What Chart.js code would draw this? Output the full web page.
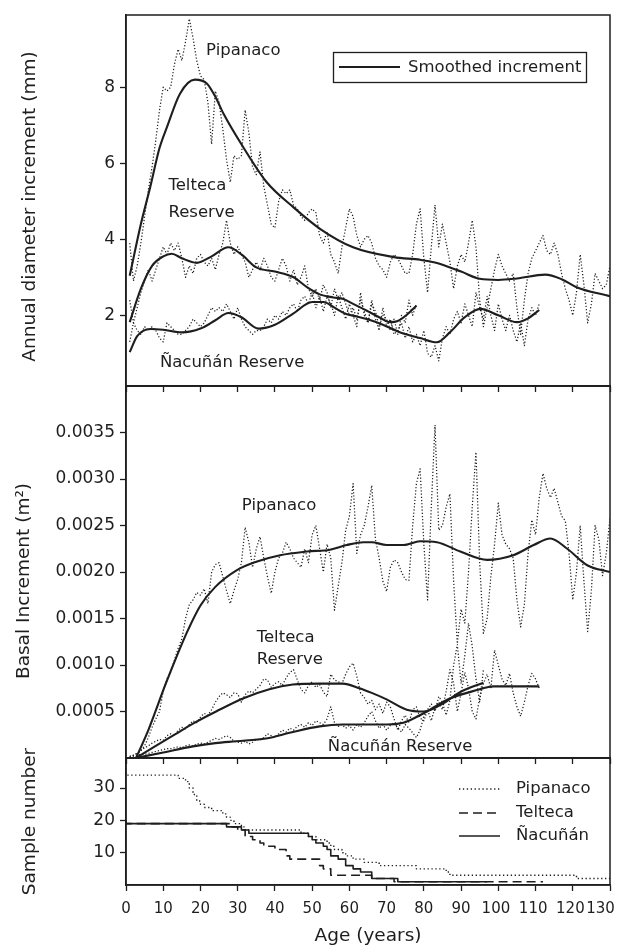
<!DOCTYPE html>
<html>
<head>
<meta charset="utf-8">
<script src="https://cdn.jsdelivr.net/npm/chart.js@4.4.1/dist/chart.umd.min.js"></script>
<style>
  html, body { margin: 0; padding: 0; background: #ffffff; }
  #wrap { position: relative; width: 624px; height: 948px; overflow: hidden; background: #fff; }
  canvas { position: absolute; left: 0; }
</style>
</head>
<body>
<div id="wrap">
  <canvas id="c3" width="670" height="210" style="top:738px"></canvas>
  <canvas id="c2" width="670" height="412" style="top:366px"></canvas>
  <canvas id="c1" width="670" height="411" style="top:-5px"></canvas>
</div>
<script>
// ---------------- DATA ----------------
const xTicks = [0, 10, 20, 30, 40, 50, 60, 70, 80, 90, 100, 110, 120, 130];
const yTicksDiam = [2, 4, 6, 8];
const yTicksBasal = [0.0005, 0.0010, 0.0015, 0.0020, 0.0025, 0.0030, 0.0035];
const yTicksSample = [10, 20, 30];

// age (years) of each annual ring
const ages = Array.from({ length: 130 }, (_, i) => i + 1);

// Annual diameter increment (mm) - raw series
const diamPipanacoRaw = [
  3.9, 2.9, 3.3, 3.9, 4.6, 5.3, 5.9, 6.6, 7.4, 8.0,
  7.9, 8.0, 8.6, 9.0, 8.7, 9.2, 9.8, 9.3, 8.7, 8.3,
  8.2, 7.6, 6.5, 7.9, 7.6, 6.9, 6.1, 5.5, 6.2, 6.1,
  6.2, 7.4, 6.8, 5.9, 5.7, 6.3, 5.4, 4.9, 4.4, 4.3,
  5.0, 5.3, 5.2, 5.3, 4.9, 4.8, 4.6, 4.5, 4.7, 4.8,
  4.7, 4.1, 3.9, 4.2, 3.6, 3.4, 3.1, 3.8, 4.3, 4.8,
  4.6, 4.1, 3.8, 4.0, 4.1, 3.9, 3.5, 3.3, 3.2, 3.0,
  3.4, 3.6, 3.5, 3.3, 3.1, 3.1, 3.6, 4.4, 4.8, 3.5,
  2.6, 3.8, 4.9, 3.8, 4.4, 3.9, 3.4, 2.7, 3.3, 3.6,
  3.4, 3.9, 4.5, 3.8, 2.4, 1.7, 2.2, 2.7, 3.2, 3.6,
  3.3, 3.1, 2.9, 3.1, 2.2, 1.5, 2.4, 3.1, 3.5, 3.7,
  3.9, 4.1, 3.7, 3.6, 3.9, 3.6, 3.1, 2.7, 2.4, 2.0,
  2.6, 3.6, 2.8, 1.8, 2.3, 3.1, 2.9, 2.7, 2.8, 3.3
];
const diamTeltecaRaw = [
  2.4, 1.8, 2.2, 2.6, 2.9, 3.2, 2.9, 3.2, 3.5, 3.8,
  3.6, 3.9, 3.7, 3.9, 3.5, 3.0, 3.3, 3.1, 3.5, 3.6,
  3.4, 3.3, 3.5, 3.2, 3.6, 3.9, 4.5, 3.9, 3.6, 3.8,
  3.6, 3.4, 3.0, 3.2, 3.4, 3.2, 3.5, 3.3, 3.0, 2.9,
  3.2, 3.5, 3.3, 2.9, 3.2, 2.8, 3.0, 3.3, 2.7, 2.5,
  2.7, 2.4, 2.8, 2.6, 2.2, 2.7, 2.4, 2.6, 2.3, 2.0,
  2.2, 1.9, 2.4, 2.1, 1.8, 2.3, 2.1, 1.7, 2.0, 1.9,
  1.6, 1.9, 1.5, 2.0, 1.8, 2.4, 2.0, 2.3
];
const diamNacunanRaw = [
  1.3, 1.8, 1.6, 1.5, 1.7, 1.6, 1.7, 1.6, 1.4, 1.3,
  1.8, 1.7, 1.6, 1.5, 1.5, 1.6, 1.7, 1.9, 1.8, 1.7,
  1.8, 2.0, 2.2, 2.1, 2.2, 2.1, 2.3, 2.1, 1.9, 2.2,
  1.9, 1.7, 1.6, 1.5, 1.6, 1.6, 1.7, 1.9, 1.8, 2.0,
  1.9, 2.1, 2.0, 2.2, 2.3, 2.1, 2.4, 2.5, 2.3, 2.6,
  2.2, 2.5, 2.1, 2.5, 2.3, 2.0, 2.5, 2.2, 1.9, 2.3,
  2.0, 1.7, 2.6, 2.0, 1.8, 2.4, 1.9, 1.6, 2.2, 1.7,
  1.9, 1.5, 1.6, 1.8, 1.4, 1.7, 1.3, 1.5, 1.2, 1.6,
  1.0, 0.9, 1.2, 0.8, 1.4, 1.7, 1.5, 1.9, 2.1, 1.8,
  2.3, 2.0, 1.7, 2.6, 2.2, 1.9, 2.5, 2.0, 1.6, 2.3,
  1.9, 1.6, 2.0, 1.6, 1.3, 1.8, 1.2, 1.9, 2.2, 2.0,
  2.3
];

// Annual diameter increment (mm) - smoothed
const diamPipanacoSmoothAge = [1, 4, 6.5, 9, 11, 14.5, 18.5, 21.7, 24, 26.2, 31.5, 37.8, 45, 52.2, 61, 72, 79, 83, 90, 95, 100, 105, 112.6, 117, 121, 130];
const diamPipanacoSmooth    = [3.04, 4.4, 5.37, 6.4, 6.95, 7.83, 8.2, 8.1, 7.75, 7.3, 6.42, 5.5, 4.84, 4.27, 3.79, 3.53, 3.46, 3.39, 3.15, 2.96, 2.93, 2.97, 3.07, 2.95, 2.74, 2.5];
const diamTeltecaSmoothAge = [1, 4, 7, 10, 12.3, 15, 19, 23, 27.5, 31, 35, 40, 45, 48.6, 52, 55.7, 58.4, 61, 64.7, 68, 71, 73, 75.5, 78];
const diamTeltecaSmooth    = [1.82, 2.7, 3.3, 3.55, 3.62, 3.5, 3.38, 3.55, 3.79, 3.6, 3.26, 3.15, 3.0, 2.74, 2.55, 2.47, 2.43, 2.3, 2.12, 1.95, 1.82, 1.85, 2.02, 2.25];
const diamNacunanSmoothAge = [1, 3, 6.5, 10, 15, 20, 24, 27.5, 31, 35.6, 40, 45, 50, 53, 56, 59, 62, 64.7, 69, 73.7, 79, 83.5, 87, 91, 95.2, 100, 105, 108, 111];
const diamNacunanSmooth    = [1.03, 1.45, 1.64, 1.62, 1.55, 1.65, 1.87, 2.06, 1.95, 1.65, 1.75, 2.05, 2.35, 2.35, 2.2, 2.04, 1.97, 1.9, 1.75, 1.55, 1.4, 1.29, 1.55, 1.95, 2.17, 2.0, 1.82, 1.92, 2.14];

// Basal increment (m2) - raw series
const basalPipanacoRaw = [
  0.00002, 0.00003, 0.00005, 0.00008, 0.00013, 0.00022, 0.00033, 0.00042, 0.00050, 0.00072,
  0.00085, 0.00092, 0.00105, 0.00118, 0.00128, 0.00150, 0.00165, 0.00170, 0.00178, 0.00175,
  0.00182, 0.00166, 0.00200, 0.00208, 0.00210, 0.00195, 0.00180, 0.00166, 0.00180, 0.00192,
  0.00210, 0.00248, 0.00232, 0.00205, 0.00225, 0.00238, 0.00215, 0.00195, 0.00177, 0.00200,
  0.00215, 0.00220, 0.00232, 0.00225, 0.00215, 0.00210, 0.00205, 0.00225, 0.00210, 0.00240,
  0.00250, 0.00225, 0.00200, 0.00230, 0.00215, 0.00159, 0.00185, 0.00210, 0.00245, 0.00260,
  0.00295, 0.00220, 0.00240, 0.00250, 0.00270, 0.00293, 0.00235, 0.00215, 0.00190, 0.00179,
  0.00205, 0.00213, 0.00210, 0.00200, 0.00192, 0.00191, 0.00250, 0.00295, 0.00311, 0.00230,
  0.00170, 0.00270, 0.00358, 0.00245, 0.00250, 0.00270, 0.00284, 0.00190, 0.00123, 0.00160,
  0.00145, 0.00200, 0.00270, 0.00329, 0.00210, 0.00134, 0.00150, 0.00195, 0.00230, 0.00274,
  0.00240, 0.00230, 0.00225, 0.00215, 0.00170, 0.00141, 0.00165, 0.00220, 0.00256, 0.00240,
  0.00280, 0.00306, 0.00290, 0.00280, 0.00290, 0.00275, 0.00260, 0.00255, 0.00220, 0.00170,
  0.00200, 0.00250, 0.00190, 0.00136, 0.00180, 0.00250, 0.00235, 0.00196, 0.00220, 0.00258
];
const basalTeltecaRaw = [
  0.00001, 0.00003, 0.00005, 0.00008, 0.00011, 0.00013, 0.00016, 0.00018, 0.00020, 0.00019,
  0.00024, 0.00026, 0.00024, 0.00030, 0.00033, 0.00031, 0.00036, 0.00040, 0.00038, 0.00044,
  0.00048, 0.00046, 0.00052, 0.00060, 0.00066, 0.00070, 0.00068, 0.00065, 0.00070, 0.00069,
  0.00060, 0.00068, 0.00072, 0.00070, 0.00074, 0.00078, 0.00085, 0.00084, 0.00076, 0.00080,
  0.00082, 0.00078, 0.00086, 0.00092, 0.00095, 0.00084, 0.00074, 0.00070, 0.00078, 0.00082,
  0.00076, 0.00079, 0.00071, 0.00066, 0.00090, 0.00084, 0.00082, 0.00080, 0.00090, 0.00098,
  0.00102, 0.00088, 0.00070, 0.00065, 0.00058, 0.00062, 0.00052, 0.00058, 0.00048, 0.00060,
  0.00055, 0.00042, 0.00030, 0.00040, 0.00046, 0.00038, 0.00052, 0.00055, 0.00043, 0.00040,
  0.00052, 0.00058, 0.00050, 0.00066, 0.00060, 0.00046, 0.00062, 0.00100, 0.00122, 0.00080,
  0.00110, 0.00145, 0.00120, 0.00085, 0.00060, 0.00095
];
const basalNacunanRaw = [
  0.00001, 0.00002, 0.00003, 0.00004, 0.00004, 0.00005, 0.00006, 0.00007, 0.00008, 0.00009,
  0.00010, 0.00010, 0.00011, 0.00012, 0.00011, 0.00013, 0.00014, 0.00013, 0.00015, 0.00016,
  0.00015, 0.00017, 0.00019, 0.00021, 0.00020, 0.00022, 0.00024, 0.00022, 0.00018, 0.00017,
  0.00016, 0.00018, 0.00015, 0.00017, 0.00020, 0.00019, 0.00022, 0.00026, 0.00024, 0.00022,
  0.00026, 0.00030, 0.00028, 0.00032, 0.00030, 0.00034, 0.00036, 0.00033, 0.00038, 0.00035,
  0.00040, 0.00038, 0.00036, 0.00042, 0.00055, 0.00038, 0.00034, 0.00036, 0.00032, 0.00035,
  0.00030, 0.00036, 0.00033, 0.00038, 0.00045, 0.00050, 0.00040, 0.00032, 0.00036, 0.00030,
  0.00035, 0.00038, 0.00032, 0.00028, 0.00036, 0.00032, 0.00027, 0.00022, 0.00030, 0.00045,
  0.00052, 0.00040, 0.00055, 0.00060, 0.00052, 0.00072, 0.00095, 0.00080, 0.00050, 0.00070,
  0.00092, 0.00075, 0.00050, 0.00042, 0.00065, 0.00080, 0.00090, 0.00075, 0.00116, 0.00100,
  0.00085, 0.00078, 0.00091, 0.00070, 0.00055, 0.00045, 0.00060, 0.00078, 0.00091, 0.00085,
  0.00075
];

// Basal increment (m2) - smoothed
const basalPipanacoSmoothAge = [2.7, 6, 10.5, 14, 16.7, 20, 24, 29.8, 35, 41.4, 48.6, 54.8, 59.3, 63.8, 66, 70, 74.5, 79, 83.5, 89.8, 97, 104, 109.5, 114, 118.5, 124, 130];
const basalPipanacoSmooth    = [0, 0.0003, 0.00078, 0.00113, 0.00138, 0.00164, 0.00184, 0.00202, 0.00211, 0.00218, 0.00222, 0.00224, 0.00229, 0.00232, 0.00232, 0.00229, 0.00229, 0.00233, 0.00232, 0.00222, 0.00213, 0.00218, 0.00229, 0.00236, 0.00225, 0.00207, 0.0020];
const basalTeltecaSmoothAge = [2.7, 8, 13.4, 18, 24.2, 31.4, 38.5, 44.8, 52, 58.2, 62.7, 66, 70, 75.4, 80, 85.3, 89.8, 96];
const basalTeltecaSmooth    = [0, 0.00013, 0.00026, 0.00037, 0.0005, 0.00064, 0.00074, 0.00079, 0.0008, 0.0008, 0.00075, 0.0007, 0.00063, 0.00052, 0.0005, 0.00059, 0.00071, 0.00081];
const basalNacunanSmoothAge = [2.7, 10, 18, 24, 29.6, 37.6, 44.8, 52, 58.2, 65.6, 70, 74.5, 77.5, 80.8, 87, 94.3, 98.7, 105, 111];
const basalNacunanSmooth    = [0, 0.00006, 0.000125, 0.00016, 0.00018, 0.00021, 0.00028, 0.00034, 0.00036, 0.00036, 0.00036, 0.00038, 0.00043, 0.0005, 0.00064, 0.00073, 0.00077, 0.00077, 0.00077];

// Sample number (step series: value holds from this age to the next)
const sampleAgesPipanaco = [0, 14, 16, 17, 18, 19, 20, 21, 23, 26, 27, 28, 29, 31, 32, 47, 49, 51, 54, 55, 56, 58, 59, 61, 64, 68, 78, 86, 87, 121, 126, 130];
const samplePipanaco     = [36, 34, 33, 32, 30, 28, 26, 25, 24, 23, 22, 21, 20, 19, 18, 17, 16, 15, 14, 13, 12, 11, 10, 9, 8, 7, 6, 5, 4, 3, 2, 2];
const sampleAgesTelteca = [0, 28, 30, 32, 34, 36, 37, 40, 43, 44, 52, 53, 55, 66, 72, 104, 112];
const sampleTelteca     = [20, 19, 18, 17, 15, 14, 13, 12, 11, 9, 8, 6, 5, 3, 2, 1, 1];
const sampleAgesNacunan = [0, 27, 31, 33, 49, 50, 51, 53, 54, 55, 57, 59, 61, 63, 66, 73, 81, 97];
const sampleNacunan     = [20, 19, 18, 17, 16, 15, 14, 13, 12, 11, 9, 8, 6, 5, 4, 2, 1, 1];

// ---------------- STYLE / LAYOUT ----------------
const INK = '#1e1e1e';
const FONT = "'DejaVu Sans', 'Liberation Sans', Arial, sans-serif";
Chart.defaults.font.family = FONT;
Chart.defaults.color = INK;

function pts(xs, ys) { return ys.map((y, i) => ({ x: xs[i], y })); }
function rawDS(vals) {
  return { data: pts(ages, vals), borderColor: INK, borderWidth: 1.25, borderDash: [1.2, 2.0],
           pointRadius: 0, tension: 0, fill: false, borderCapStyle: 'butt' };
}
function smoothDS(xs, ys) {
  return { data: pts(xs, ys), borderColor: INK, borderWidth: 2.1, pointRadius: 0,
           cubicInterpolationMode: 'monotone', fill: false };
}
function stepDS(xs, ys, dash, width) {
  return { data: pts(xs, ys), borderColor: INK, borderWidth: width, borderDash: dash,
           pointRadius: 0, stepped: 'after', fill: false };
}

const decoPlugin = {
  id: 'deco',
  afterDraw(chart, args, o) {
    const { ctx, chartArea: a, scales } = chart;
    ctx.save();
    ctx.strokeStyle = INK; ctx.lineWidth = 1.5;
    ctx.strokeRect(a.left, a.top, a.right - a.left, a.bottom - a.top);
    ctx.fillStyle = INK;
    ctx.font = '16.5px ' + FONT; ctx.textAlign = 'left'; ctx.textBaseline = 'alphabetic';
    (o.labels || []).forEach(l => {
      ctx.fillText(l.text, scales.x.getPixelForValue(l.at[0]), scales.y.getPixelForValue(l.at[1]));
    });
    if (o.yTitle) {
      ctx.save();
      ctx.translate(o.yTitle.x, (a.top + a.bottom) / 2 + o.yTitle.dy);
      ctx.rotate(-Math.PI / 2);
      ctx.font = '18.5px ' + FONT; ctx.textAlign = 'center'; ctx.textBaseline = 'alphabetic';
      ctx.fillText(o.yTitle.text, 0, 0);
      ctx.restore();
    }
    if (o.xTitle) {
      ctx.font = '18.5px ' + FONT; ctx.textAlign = 'center'; ctx.textBaseline = 'alphabetic';
      ctx.fillText(o.xTitle.text, (a.left + a.right) / 2, a.bottom + o.xTitle.dy);
    }
    if (o.boxLegend) {
      const b = o.boxLegend;
      ctx.lineWidth = 1.3;
      ctx.strokeRect(b.x + 0.5, a.top + b.dy + 0.5, b.w, b.h);
      ctx.lineWidth = 2.1; ctx.setLineDash([]);
      ctx.beginPath();
      ctx.moveTo(b.x + 6, a.top + b.dy + b.h / 2); ctx.lineTo(b.x + 67, a.top + b.dy + b.h / 2);
      ctx.stroke();
      ctx.font = '16.5px ' + FONT; ctx.textAlign = 'left'; ctx.textBaseline = 'middle';
      ctx.fillText(b.text, b.x + 75, a.top + b.dy + b.h / 2 + 1);
    }
    if (o.lineLegend) {
      const L = o.lineLegend;
      L.items.forEach((it, i) => {
        const y = a.top + L.dy[i];
        ctx.lineWidth = it.width; ctx.setLineDash(it.dash);
        ctx.beginPath(); ctx.moveTo(L.x0, y); ctx.lineTo(L.x1, y); ctx.stroke();
        ctx.setLineDash([]);
        ctx.font = '16.5px ' + FONT; ctx.textAlign = 'left'; ctx.textBaseline = 'middle';
        ctx.fillText(it.text, L.tx, y);
      });
    }
    ctx.restore();
  }
};

// three-digit labels sit slightly left of their ticks in the original; the last one is pulled inside
const xLabel = v => (v === 130 ? '130\u2007\u2007' : v >= 100 ? v + '\u2008' : String(v));

function xScale(showLabels, height) {
  return {
    type: 'linear', min: 0, max: 130,
    afterBuildTicks: s => { s.ticks = xTicks.map(v => ({ value: v })); },
    ticks: { display: showLabels, padding: 9, color: INK, font: { size: 15 },
             maxRotation: 0, minRotation: 0, autoSkip: false, callback: xLabel },
    grid: { display: true, drawOnChartArea: false, drawTicks: true, tickLength: 6, tickWidth: 1.3, tickColor: INK, color: INK },
    border: { display: true, color: INK, width: 1.5 },
    afterFit: s => { s.height = height; }
  };
}
function yScale(min, max, ticks, fmt) {
  return {
    type: 'linear', min, max,
    afterBuildTicks: s => { s.ticks = ticks.map(v => ({ value: v })); },
    ticks: { padding: 5, color: INK, font: { size: 17 }, callback: fmt },
    grid: { display: true, drawOnChartArea: false, drawTicks: true, tickLength: 6, tickWidth: 1.3, tickColor: INK, color: INK },
    border: { display: true, color: INK, width: 1.5 },
    afterFit: s => { s.width = 126; }
  };
}
function baseOptions(xs, ys, deco) {
  return {
    responsive: false, animation: false, devicePixelRatio: 1,
    layout: { padding: { top: 20, right: 60, bottom: 0, left: 0 } },
    plugins: { legend: { display: false }, tooltip: { enabled: false }, deco },
    scales: { x: xs, y: ys },
    elements: { line: { borderJoinStyle: 'round' } }
  };
}

new Chart(document.getElementById('c1'), {
  type: 'line',
  data: { datasets: [
    rawDS(diamPipanacoRaw), rawDS(diamTeltecaRaw), rawDS(diamNacunanRaw),
    smoothDS(diamPipanacoSmoothAge, diamPipanacoSmooth),
    smoothDS(diamTeltecaSmoothAge, diamTeltecaSmooth),
    smoothDS(diamNacunanSmoothAge, diamNacunanSmooth)
  ] },
  options: baseOptions(xScale(false, 20), yScale(0.14, 9.9, yTicksDiam, v => String(v)), {
    labels: [
      { text: 'Pipanaco', at: [21.5, 8.85] },
      { text: 'Telteca', at: [11.4, 5.30] },
      { text: 'Reserve', at: [11.4, 4.58] },
      { text: 'Ñacuñán Reserve', at: [9.1, 0.65] }
    ],
    yTitle: { text: 'Annual diameter increment (mm)', x: 34.5, dy: 6 },
    boxLegend: { text: 'Smoothed increment', x: 333, dy: 37, w: 253, h: 30 }
  }),
  plugins: [decoPlugin]
});

new Chart(document.getElementById('c2'), {
  type: 'line',
  data: { datasets: [
    rawDS(basalPipanacoRaw), rawDS(basalTeltecaRaw), rawDS(basalNacunanRaw),
    smoothDS(basalPipanacoSmoothAge, basalPipanacoSmooth),
    smoothDS(basalTeltecaSmoothAge, basalTeltecaSmooth),
    smoothDS(basalNacunanSmoothAge, basalNacunanSmooth)
  ] },
  options: baseOptions(xScale(false, 20), yScale(0, 0.004, yTicksBasal, v => Number(v).toFixed(4)), {
    labels: [
      { text: 'Pipanaco', at: [31.1, 0.002672] },
      { text: 'Telteca', at: [35.1, 0.001251] },
      { text: 'Reserve', at: [35.1, 0.001009] },
      { text: 'Ñacuñán Reserve', at: [54.2, 0.0000708] }
    ],
    yTitle: { text: 'Basal Increment (m²)', x: 28.5, dy: 9 }
  }),
  plugins: [decoPlugin]
});

new Chart(document.getElementById('c3'), {
  type: 'line',
  data: { datasets: [
    stepDS(sampleAgesPipanaco, samplePipanaco, [1.3, 2.6], 1.4),
    stepDS(sampleAgesTelteca, sampleTelteca, [9, 5], 1.6),
    stepDS(sampleAgesNacunan, sampleNacunan, [], 1.6)
  ] },
  options: baseOptions(xScale(true, 63), yScale(0, 39.3, yTicksSample, v => String(v)), {
    yTitle: { text: 'Sample number', x: 35, dy: 0 },
    xTitle: { text: 'Age (years)', dy: 56 },
    lineLegend: {
      x0: 459, x1: 500, tx: 516, dy: [31, 55, 78],
      items: [
        { text: 'Pipanaco', dash: [1.3, 2.6], width: 1.4 },
        { text: 'Telteca', dash: [9, 5], width: 1.6 },
        { text: 'Ñacuñán', dash: [], width: 1.6 }
      ]
    }
  }),
  plugins: [decoPlugin]
});
</script>
</body>
</html>
